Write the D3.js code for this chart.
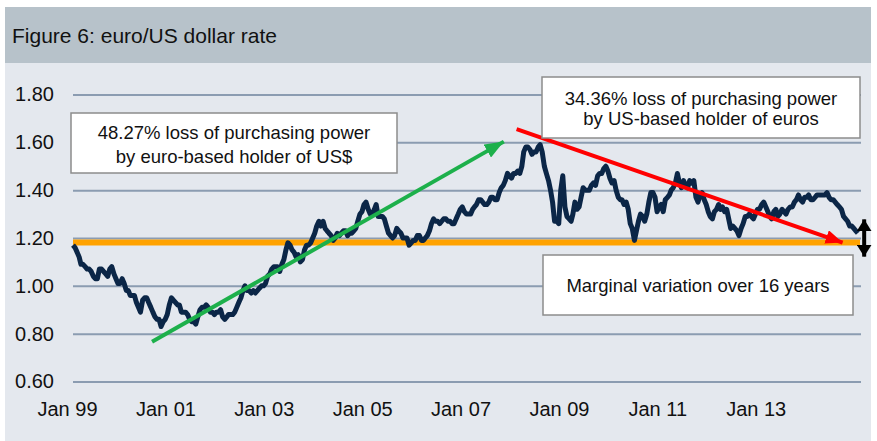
<!DOCTYPE html>
<html>
<head>
<meta charset="utf-8">
<script src="https://cdn.jsdelivr.net/npm/d3@7"></script>
<style>
  html, body { margin: 0; padding: 0; background: #fff; }
  svg { display: block; font-family: "Liberation Sans", Arial, sans-serif; }
</style>
</head>
<body>
<div id="chart"></div>
<script>
'use strict';

// 半月ごとのユーロ/ドル相場（1日と16日）
const rate1999 = [1.17,1.16, 1.14,1.12, 1.09,1.09, 1.08,1.07, 1.07,1.06, 1.04,1.03, 1.03,1.07, 1.07,1.06, 1.05,1.04, 1.07,1.08, 1.05,1.03, 1.01,1.01];
const rate2000 = [1.03,1.01, 0.98,0.98, 0.96,0.96, 0.96,0.93, 0.91,0.89, 0.94,0.95, 0.95,0.93, 0.91,0.89, 0.87,0.86, 0.86,0.83, 0.85,0.86, 0.88,0.92];
const rate2001 = [0.95,0.94, 0.93,0.92, 0.92,0.89, 0.89,0.89, 0.88,0.86, 0.85,0.85, 0.84,0.87, 0.90,0.91, 0.91,0.92, 0.91,0.89, 0.89,0.88, 0.89,0.89];
const rate2002 = [0.90,0.87, 0.86,0.87, 0.88,0.88, 0.88,0.89, 0.91,0.93, 0.95,0.98, 1.00,0.98, 0.98,0.97, 0.98,0.97, 0.98,0.99, 1.00,1.00, 1.01,1.04];
const rate2003 = [1.05,1.07, 1.08,1.08, 1.08,1.06, 1.09,1.11, 1.15,1.18, 1.17,1.15, 1.14,1.12, 1.13,1.10, 1.11,1.15, 1.17,1.17, 1.18,1.20, 1.22,1.25];
const rate2004 = [1.27,1.25, 1.27,1.24, 1.23,1.22, 1.21,1.19, 1.20,1.22, 1.21,1.22, 1.23,1.23, 1.21,1.22, 1.22,1.23, 1.24,1.27, 1.30,1.31, 1.34,1.35];
const rate2005 = [1.32,1.30, 1.30,1.32, 1.34,1.29, 1.29,1.29, 1.28,1.25, 1.22,1.21, 1.20,1.21, 1.24,1.23, 1.22,1.20, 1.20,1.20, 1.17,1.18, 1.19,1.19];
const rate2006 = [1.21,1.21, 1.19,1.19, 1.20,1.21, 1.23,1.26, 1.28,1.27, 1.27,1.26, 1.27,1.28, 1.28,1.27, 1.27,1.26, 1.26,1.28, 1.30,1.32, 1.33,1.31];
const rate2007 = [1.30,1.30, 1.30,1.32, 1.33,1.34, 1.36,1.36, 1.35,1.34, 1.34,1.35, 1.37,1.37, 1.36,1.36, 1.39,1.41, 1.42,1.44, 1.47,1.46, 1.45,1.47];
const rate2008 = [1.47,1.48, 1.47,1.50, 1.56,1.58, 1.58,1.57, 1.55,1.56, 1.56,1.58, 1.59,1.56, 1.50,1.47, 1.44,1.40, 1.35,1.27, 1.27,1.26, 1.40,1.46];
const rate2009 = [1.33,1.29, 1.28,1.27, 1.30,1.35, 1.32,1.33, 1.37,1.41, 1.40,1.40, 1.40,1.42, 1.43,1.42, 1.46,1.47, 1.47,1.49, 1.50,1.48, 1.45,1.43];
const rate2010 = [1.44,1.40, 1.37,1.36, 1.36,1.34, 1.35,1.32, 1.26,1.24, 1.19,1.23, 1.27,1.30, 1.29,1.27, 1.30,1.35, 1.39,1.39, 1.37,1.31, 1.33,1.34];
const rate2011 = [1.31,1.36, 1.37,1.38, 1.40,1.41, 1.43,1.47, 1.43,1.41, 1.44,1.42, 1.41,1.44, 1.43,1.44, 1.37,1.35, 1.38,1.39, 1.36,1.34, 1.31,1.29];
const rate2012 = [1.28,1.31, 1.32,1.34, 1.32,1.33, 1.31,1.32, 1.28,1.24, 1.25,1.24, 1.23,1.21, 1.24,1.26, 1.29,1.29, 1.30,1.29, 1.28,1.30, 1.32,1.32];
const rate2013 = [1.34,1.35, 1.33,1.31, 1.29,1.28, 1.31,1.32, 1.29,1.30, 1.32,1.31, 1.30,1.32, 1.33,1.33, 1.35,1.36, 1.38,1.36, 1.35,1.37, 1.37,1.38];
const rate2014 = [1.36,1.36, 1.37,1.38, 1.38,1.38, 1.38,1.38, 1.39,1.37, 1.36,1.36, 1.35,1.34, 1.33,1.32, 1.29,1.28, 1.27,1.25, 1.25,1.24, 1.23,1.22];
const rateYears = [rate1999, rate2000, rate2001, rate2002, rate2003, rate2004, rate2005, rate2006,
                   rate2007, rate2008, rate2009, rate2010, rate2011, rate2012, rate2013, rate2014];

const yTicks = [0.60, 0.80, 1.00, 1.20, 1.40, 1.60, 1.80];
const xTickYears = [1999, 2001, 2003, 2005, 2007, 2009, 2011, 2013];

// 注釈（日付, レート）
const baseRate = 1.181;
const arrowUp = [['2000-08-10', 0.766], ['2007-10-05', 1.603]];
const arrowDown = [['2008-01-08', 1.655], ['2014-08-25', 1.181]];
const spreadArrow = [['2015-02-01', 1.278], ['2015-02-01', 1.122]];
const noteUp = ['48.27% loss of purchasing power', 'by euro-based holder of US$'];
const noteDown = ['34.36% loss of purchasing power', 'by US-based holder of euros'];
const noteFlat = ['Marginal variation over 16 years'];
const title = 'Figure 6: euro/US dollar rate';

// データ整形
const parse = d3.timeParse('%Y-%m-%d');
const series = [];
rateYears.forEach((arr, yi) => {
    arr.forEach((v, i) => {
        series.push({ date: new Date(1999 + yi, Math.floor(i / 2), i % 2 ? 16 : 1), value: v });
    });
});

const width = 877;
const height = 441;
const x = d3.scaleTime()
    .domain([new Date(1999, 0, 1), new Date(2015, 0, 1)])
    .range([73, 860]);
const y = d3.scaleLinear()
    .domain([0.6, 1.8])
    .range([381.5, 94.5]);

const svg = d3.select('#chart').append('svg')
    .attr('width', width)
    .attr('height', height);

// 背景とヘッダー
svg.append('rect').attr('x', 5).attr('y', 7).attr('width', 866).attr('height', 434).attr('fill', '#e4e8ee');
svg.append('rect').attr('x', 5).attr('y', 7).attr('width', 866).attr('height', 56).attr('fill', '#b7c2ca');
svg.append('text')
    .attr('x', 12).attr('y', 43)
    .attr('font-size', '21px')
    .attr('fill', '#111')
    .text(title);

// 矢印マーカー
const defs = svg.append('defs');
const addMarker = (id, color, len, wid) => {
    defs.append('marker')
        .attr('id', id)
        .attr('markerUnits', 'userSpaceOnUse')
        .attr('viewBox', `0 0 ${len} ${wid}`)
        .attr('refX', len).attr('refY', wid / 2)
        .attr('markerWidth', len).attr('markerHeight', wid)
        .attr('orient', 'auto-start-reverse')
        .append('path')
        .attr('d', `M0,0L${len},${wid / 2}L0,${wid}Z`)
        .attr('fill', color);
};
addMarker('headGreen', '#1db04b', 19, 15);
addMarker('headRed', '#ff0000', 17, 14);
addMarker('headBlack', '#000', 12, 15);

// Y軸（グリッド線）
const yAxis = svg.append('g')
    .attr('transform', 'translate(73,0)')
    .call(d3.axisLeft(y).tickValues(yTicks).tickFormat(d3.format('.2f')).tickSize(-788).tickPadding(19));
yAxis.select('.domain').remove();
yAxis.selectAll('line').attr('stroke', '#8b9cb1').attr('stroke-width', 2);
yAxis.selectAll('text').attr('font-size', '20px').attr('fill', '#111').attr('font-family', null);

// X軸
const xAxis = svg.append('g')
    .attr('transform', 'translate(-6,381.5)')
    .call(d3.axisBottom(x)
        .tickValues(xTickYears.map(yr => new Date(yr, 0, 1)))
        .tickFormat(d3.timeFormat('Jan %y'))
        .tickSize(0).tickPadding(20));
xAxis.select('.domain').remove();
xAxis.selectAll('text').attr('font-size', '20px').attr('fill', '#111').attr('font-family', null);

// 基準線（オレンジ）
svg.append('line')
    .attr('x1', x.range()[0]).attr('x2', x.range()[1])
    .attr('y1', y(baseRate)).attr('y2', y(baseRate))
    .attr('stroke', '#ffa200').attr('stroke-width', 6);

// 為替レート
const line = d3.line()
    .x(d => x(d.date))
    .y(d => y(d.value));
svg.append('path')
    .datum(series)
    .attr('d', line)
    .attr('fill', 'none')
    .attr('stroke', '#0b2647')
    .attr('stroke-width', 5)
    .attr('stroke-linejoin', 'round');

// トレンド矢印
const drawArrow = (pts, color, w, markerEnd, markerStart) => {
    const p = pts.map(d => [x(parse(d[0])), y(d[1])]);
    const l = svg.append('line')
        .attr('x1', p[0][0]).attr('y1', p[0][1])
        .attr('x2', p[1][0]).attr('y2', p[1][1])
        .attr('stroke', color).attr('stroke-width', w)
        .attr('marker-end', `url(#${markerEnd})`);
    if (markerStart) l.attr('marker-start', `url(#${markerStart})`);
};
drawArrow(arrowUp, '#1db04b', 4, 'headGreen');
drawArrow(arrowDown, '#ff0000', 4, 'headRed');
drawArrow(spreadArrow, '#000', 4, 'headBlack', 'headBlack');

// 注釈ボックス
const drawNote = (lines, bx, by, bw, bh, lineYs) => {
    const g = svg.append('g');
    g.append('rect')
        .attr('x', bx).attr('y', by).attr('width', bw).attr('height', bh)
        .attr('fill', '#fff').attr('stroke', '#8c8c8c').attr('stroke-width', 1.5);
    g.selectAll('text')
        .data(lines)
        .enter()
        .append('text')
        .attr('x', bx + bw / 2)
        .attr('y', (d, i) => lineYs[i])
        .attr('text-anchor', 'middle')
        .attr('font-size', '18.5px')
        .attr('fill', '#111')
        .text(d => d);
};
drawNote(noteUp, 71, 113, 326, 60, [139, 163]);
drawNote(noteDown, 542, 77, 318, 61, [105, 125]);
drawNote(noteFlat, 543, 255, 310, 60, [292]);
</script>
</body>
</html>
